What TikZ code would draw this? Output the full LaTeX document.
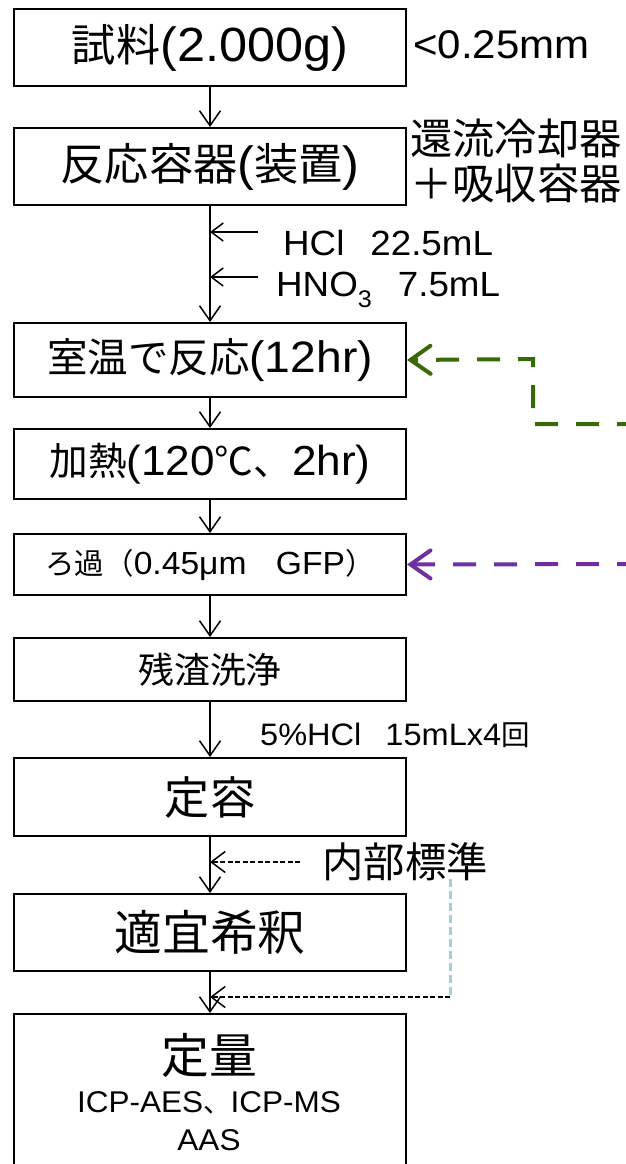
\documentclass[tikz,border=0pt]{standalone}
\usepackage{fontspec}
\setmainfont{Liberation Sans}[FakeStretch=1.05]
\newfontfamily\jp{Noto Sans CJK JP}[Scale=0.92]
\usetikzlibrary{arrows.meta}
\newcommand{\fs}[1]{\fontsize{#1}{#1}\selectfont}
\definecolor{dgreen}{RGB}{56,106,10}
\definecolor{dpurple}{RGB}{112,48,160}
\definecolor{lblue}{RGB}{160,210,216}
\begin{document}
\begin{tikzpicture}[x=1pt,y=-1pt,
  box/.style={draw, line width=2pt, minimum width=392pt, inner sep=0pt, anchor=north west},
  flow/.style={line width=1.5pt, -{Straight Barb[length=15pt,width=21pt]}},
  addarrow/.style={line width=1.5pt, -{Straight Barb[length=12pt,width=18pt]}},
  thindash/.style={line width=1.5pt, dash pattern=on 5pt off 2.5pt, -{Straight Barb[length=14pt,width=21pt]}},
  bigdash/.style={line width=4pt, dash pattern=on 23pt off 18pt, -{Straight Barb[length=20pt,width=28pt,line cap=round]}},
  lbl/.style={anchor=west, inner sep=0pt},
]
\useasboundingbox (0,0) rectangle (626,1164);

% boxes
\node[box, minimum height=77pt, font=\fs{48}] (b1) at (13,8) {{\jp 試料}(2.000g)};
\node[box, minimum height=77pt, font=\fs{48}] (b2) at (13,127) {{\jp 反応容器}({\jp 装置})};
\node[box, minimum height=74pt, font=\fs{44}] (b3) at (13,322) {{\jp 室温で反応}(12hr)};
\node[box, minimum height=70pt, font=\fs{42}] (b4) at (13,428) {{\jp 加熱}(120{\jp ℃、}2hr)};
\node[box, minimum height=61pt, font=\fs{32}] (b5) at (13,533) {{\jp ろ過（}0.45μm{\jp 　}GFP{\jp ）}};
\node[box, minimum height=63pt, font=\fs{39}] (b6) at (13,637) {\jp 残渣洗浄};
\node[box, minimum height=78pt, font=\fs{49}] (b7) at (13,757) {\jp 定容};
\node[box, minimum height=77pt, font=\fs{52}] (b8) at (13,893) {\jp 適宜希釈};
\node[box, minimum height=160pt] (b9) at (13,1013) {};
\node[font=\fs{52}, inner sep=0pt] (q1) at (209,1055) {\jp 定量};
\node[font=\fs{30}, inner sep=0pt] (q2) at (209,1103) {ICP-AES{\jp 、}ICP-MS};
\node[font=\fs{30}, inner sep=0pt] (q3) at (209,1140) {AAS};

% side labels
\node[lbl, font=\fs{40}] (size) at (413,45) {<0.25mm};
\node[lbl, font=\fs{46}] (r1) at (410,138) {\jp 還流冷却器};
\node[lbl, font=\fs{46}] (r2) at (410,183) {\jp ＋吸収容器};
\node[lbl, font=\fs{35}] (hcl) at (283,243) {HCl\hspace{26pt}22.5mL};
\node[lbl, font=\fs{35}] (hno) at (276,290) {HNO\raisebox{-11pt}{\fs{24}3}\hspace{26pt}7.5mL};
\node[lbl, font=\fs{31}] (wash) at (260,735) {5\%HCl\hspace{24pt}15mLx4{\jp 回}};
\node[lbl, font=\fs{45}] (ist) at (322,862) {\jp 内部標準};

% main flow
\draw[flow] (b1.south) -- (b2.north);
\draw[flow] (b2.south) -- (b3.north);
\draw[flow] (b3.south) -- (b4.north);
\draw[flow] (b4.south) -- (b5.north);
\draw[flow] (b5.south) -- (b6.north);
\draw[flow] (b6.south) -- (b7.north);
\draw[flow] (b7.south) -- (b8.north);
\draw[flow] (b8.south) -- (b9.north);

% reagent additions
\coordinate (a1) at (258,232);
\coordinate (a2) at (258,277);
\draw[addarrow] (a1) -- (a1 -| b2.south);
\draw[addarrow] (a2) -- (a2 -| b2.south);

% internal standard
\coordinate (i1) at (300,862);
\draw[thindash] (i1) -- (i1 -| b7.south);
\coordinate (c1) at (450,879);
\coordinate (c2) at (450,997);
\draw[lblue, line width=3pt, dash pattern=on 8pt off 4pt] (c1) -- (c2);
\draw[thindash] (c2) -- (c2 -| b8.south);

% coloured dashed inputs
\coordinate (g0) at (640,424);
\coordinate (g1) at (533,424);
\coordinate (g2) at (533,359);
\draw[bigdash, dgreen] (g0) -- (g1) -- (g2) -- (b3.east);
\coordinate (p0) at (640,564);
\draw[bigdash, dpurple] (p0) -- (b5.east);
\end{tikzpicture}
\end{document}
